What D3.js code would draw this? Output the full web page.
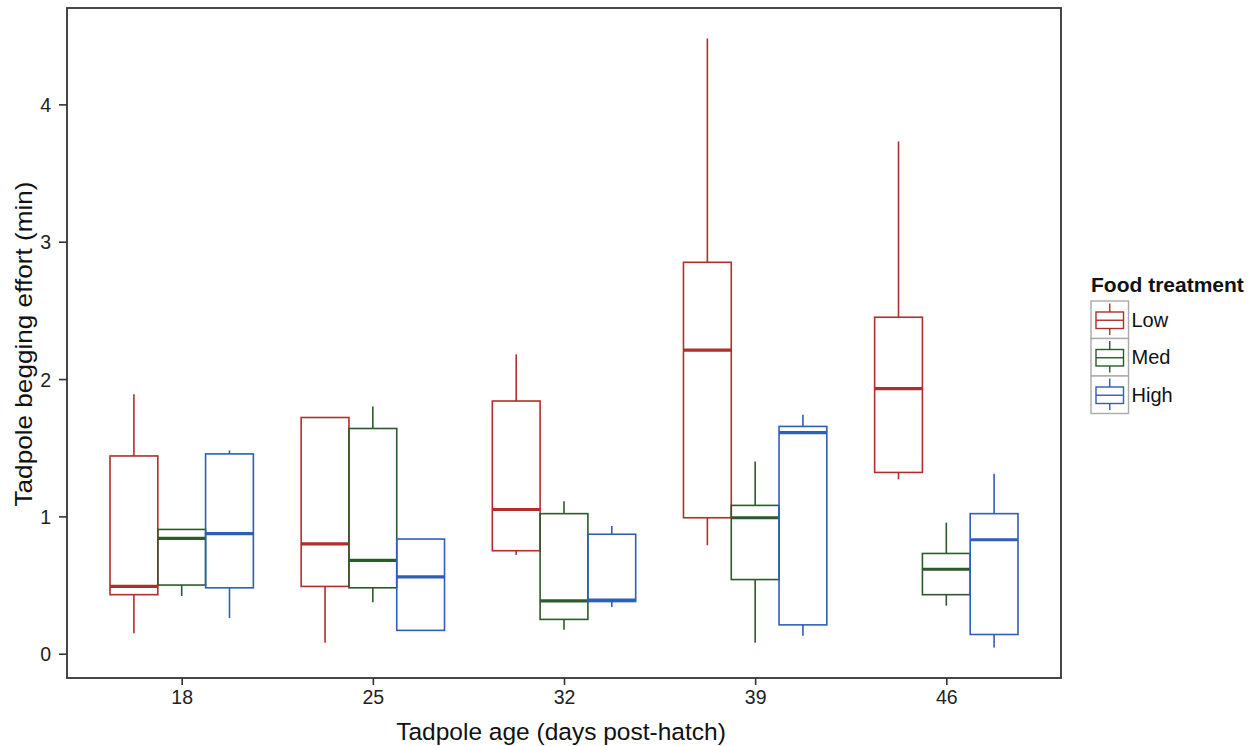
<!DOCTYPE html>
<html><head><meta charset="utf-8">
<script src="https://cdn.jsdelivr.net/npm/d3@7"></script>
<style>
body{margin:0;background:#fff;}
text{font-family:"Liberation Sans",Arial,sans-serif;}
</style>
</head><body>
<svg id="chart" width="1257" height="746"></svg>
<script>
// ---- data ----
const ages = ["18", "25", "32", "39", "46"];
const treatments = ["Low", "Med", "High"];
const treatmentColors = ["#B02E2B", "#2C5A2C", "#2F5EB9"];
// per age: [lower whisker, Q1, median, Q3, upper whisker]
const lowStats = [
  [0.15, 0.43, 0.49, 1.44, 1.89],
  [0.08, 0.49, 0.80, 1.72, 1.72],
  [0.72, 0.75, 1.05, 1.84, 2.18],
  [0.79, 0.99, 2.21, 2.85, 4.48],
  [1.27, 1.32, 1.93, 2.45, 3.73]
];
const medStats = [
  [0.42, 0.50, 0.84, 0.905, 0.905],
  [0.375, 0.48, 0.68, 1.64, 1.80],
  [0.175, 0.25, 0.385, 1.02, 1.11],
  [0.08, 0.54, 0.99, 1.08, 1.40],
  [0.35, 0.43, 0.615, 0.73, 0.955]
];
const highStats = [
  [0.26, 0.48, 0.875, 1.455, 1.48],
  [0.17, 0.17, 0.56, 0.835, 0.835],
  [0.34, 0.38, 0.39, 0.87, 0.93],
  [0.13, 0.21, 1.61, 1.655, 1.74],
  [0.045, 0.14, 0.83, 1.02, 1.31]
];
const yTicks = [0, 1, 2, 3, 4];
const xTitle = "Tadpole age (days post-hatch)";
const yTitle = "Tadpole begging effort (min)";
const legendTitle = "Food treatment";

const series = [lowStats, medStats, highStats];

// ---- layout ----
const svg = d3.select("#chart");
const plot = {left: 67, right: 1061, top: 8, bottom: 678};

const x = d3.scalePoint().domain(ages).range([plot.left, plot.right]).padding(0.6);
const allVals = series.flat(2);
const [vmin, vmax] = d3.extent(allVals);
const pad = (vmax - vmin) * 0.05;
const y = d3.scaleLinear().domain([vmin - pad, vmax + pad]).range([plot.bottom, plot.top]);

const step = x.step();
const boxW = step * 0.25;
const offset = d3.scaleBand().domain(treatments).range([-step * 0.375, step * 0.375]);

// boxes
const g = svg.append("g");
series.forEach((stats, si) => {
  const col = treatmentColors[si];
  const tg = g.append("g");
  stats.forEach((s, ai) => {
    const cx = x(ages[ai]) + offset(treatments[si]) + offset.bandwidth() / 2;
    const [wl, q1, med, q3, wh] = s;
    tg.append("line").attr("x1", cx).attr("x2", cx).attr("y1", y(q3)).attr("y2", y(wh))
      .attr("stroke", col).attr("stroke-width", 1.6);
    tg.append("line").attr("x1", cx).attr("x2", cx).attr("y1", y(q1)).attr("y2", y(wl))
      .attr("stroke", col).attr("stroke-width", 1.6);
    tg.append("rect").attr("x", cx - boxW / 2).attr("y", y(q3))
      .attr("width", boxW).attr("height", y(q1) - y(q3))
      .attr("fill", "none").attr("stroke", col).attr("stroke-width", 1.6);
    tg.append("line").attr("x1", cx - boxW / 2).attr("x2", cx + boxW / 2)
      .attr("y1", y(med)).attr("y2", y(med))
      .attr("stroke", col).attr("stroke-width", 3.2);
  });
});

// frame
svg.append("rect").attr("x", plot.left).attr("y", plot.top)
  .attr("width", plot.right - plot.left).attr("height", plot.bottom - plot.top)
  .attr("fill", "none").attr("stroke", "#333").attr("stroke-width", 1.8);

// axes
const xAxis = svg.append("g").attr("transform", `translate(0,${plot.bottom})`)
  .call(d3.axisBottom(x).tickSize(7).tickPadding(5));
const yAxis = svg.append("g").attr("transform", `translate(${plot.left},0)`)
  .call(d3.axisLeft(y).tickValues(yTicks).tickFormat(d3.format("d")).tickSize(8).tickPadding(8));
[xAxis, yAxis].forEach(a => {
  a.select(".domain").remove();
  a.selectAll(".tick line").attr("stroke", "#333").attr("stroke-width", 1.6);
  a.selectAll(".tick text").attr("fill", "#222").style("font-size", "19.5px")
    .style("font-family", "'Liberation Sans', Arial, sans-serif");
});
yAxis.selectAll(".tick text").attr("dy", "0.36em");

svg.append("text").attr("x", (plot.left + plot.right) / 2 - 3).attr("y", 740)
  .attr("text-anchor", "middle").style("font-size", "24.5px").attr("fill", "#111").text(xTitle);
svg.append("text").attr("transform", `translate(32,${(plot.top + plot.bottom) / 2 + 1}) rotate(-90)`)
  .attr("text-anchor", "middle").style("font-size", "24px")
  .attr("textLength", 325).attr("lengthAdjust", "spacingAndGlyphs")
  .attr("fill", "#111").text(yTitle);

// legend
const lg = svg.append("g").attr("transform", "translate(1091,0)");
lg.append("text").attr("x", 0).attr("y", 292).style("font-size", "21px")
  .style("font-weight", "bold").attr("fill", "#111").text(legendTitle);
const key = 37.5;
treatments.forEach((t, i) => {
  const ky = 301 + i * key;
  const col = treatmentColors[i];
  const k = lg.append("g").attr("transform", `translate(0,${ky})`);
  k.append("rect").attr("width", key).attr("height", key).attr("fill", "#fff")
    .attr("stroke", "#aaa").attr("stroke-width", 1.4);
  const cx = key / 2;
  k.append("line").attr("x1", cx).attr("x2", cx).attr("y1", 2.5).attr("y2", 11)
    .attr("stroke", col).attr("stroke-width", 1.4);
  k.append("line").attr("x1", cx).attr("x2", cx).attr("y1", 27.5).attr("y2", 34)
    .attr("stroke", col).attr("stroke-width", 1.4);
  k.append("rect").attr("x", 5).attr("y", 11).attr("width", key - 10).attr("height", 16.5)
    .attr("fill", "none").attr("stroke", col).attr("stroke-width", 1.4);
  k.append("line").attr("x1", 5).attr("x2", key - 5).attr("y1", 19.25).attr("y2", 19.25)
    .attr("stroke", col).attr("stroke-width", 1.4);
  k.append("text").attr("x", key + 3).attr("y", key / 2).attr("dy", "0.36em")
    .style("font-size", "20px").attr("fill", "#111").text(t);
});
</script>
</body></html>
